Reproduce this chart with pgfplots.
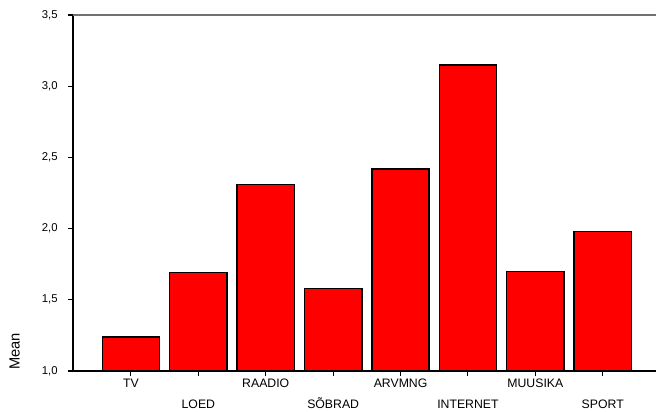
\documentclass[border=0pt]{standalone}
\usepackage{pgfplots}
\pgfplotsset{compat=1.18}
\usepackage{fontspec}
\setmainfont{Liberation Sans}
\newcommand{\low}[1]{\raisebox{-21.6pt}[0pt][0pt]{#1}}
\begin{document}
\begin{tikzpicture}
\begin{axis}[
  scale only axis,
  width=437.25pt, height=267pt,
  xmin=-0.86, xmax=7.79,
  ymin=1, ymax=3.5,
  ytick={1,1.5,2,2.5,3,3.5},
  xtick={0,1,2,3,4,5,6,7},
  xticklabels={TV,\low{LOED},RAADIO,\low{SÕBRAD},ARVMNG,\low{INTERNET},MUUSIKA,\low{SPORT}},
  xticklabel style={font=\fontsize{9.2pt}{11pt}\selectfont, inner sep=1pt, yshift=-1pt},
  yticklabel style={font=\fontsize{8.5pt}{10pt}\selectfont, xshift=-4pt},
  /pgf/number format/assume math mode=true,
  /pgf/number format/use comma,
  /pgf/number format/fixed,
  /pgf/number format/fixed zerofill,
  /pgf/number format/precision=1,
  axis x line*=bottom,
  axis y line*=left,
  axis line style={black, line width=1.3pt},
  x axis line style={-}, y axis line style={-},
  tick align=outside,
  major tick length=4pt,
  tick style={black, line width=0.8pt},
  ylabel={Mean},
  ylabel style={font=\fontsize{11pt}{13pt}\selectfont, at={(axis description cs:-0.1003,0.055)}, anchor=center},
  ybar, bar width=0.85,
  clip=true,
]
\addplot[fill=red, draw=black, line width=1.1pt] coordinates {
(0,1.24) (1,1.69) (2,2.31) (3,1.58) (4,2.42) (5,3.15) (6,1.70) (7,1.98)
};
\draw[color={rgb,255:red,112;green,112;blue,112}, line width=1.5pt] (rel axis cs:0,1) -- (rel axis cs:1,1);
\end{axis}
\pgfresetboundingbox
\path[use as bounding box] ([xshift=-54.75pt,yshift=-30.75pt]current axis.south west) rectangle ([yshift=11.25pt]current axis.north east);
\end{tikzpicture}
\end{document}
